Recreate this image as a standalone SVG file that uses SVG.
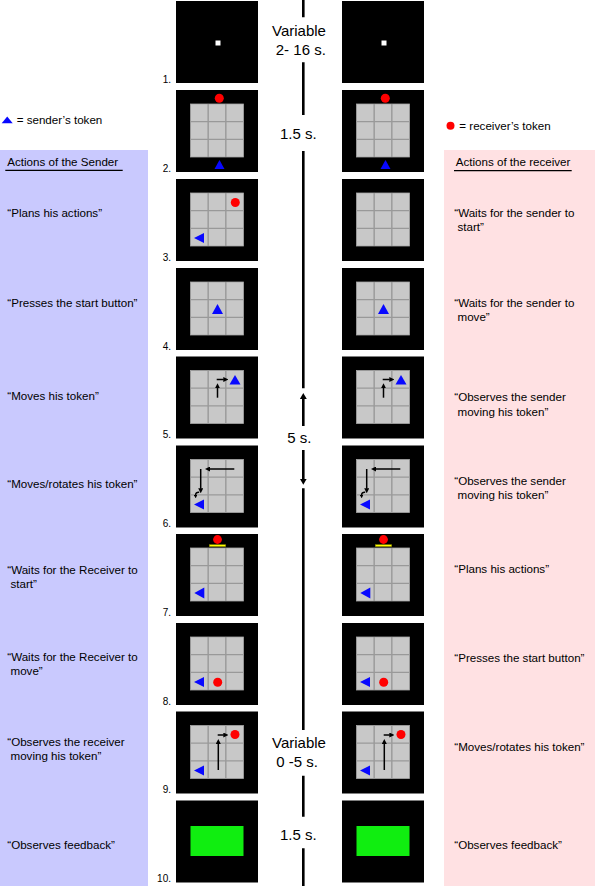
<svg xmlns="http://www.w3.org/2000/svg" width="595" height="886" viewBox="0 0 595 886">
<defs>
<style>
.t{font-family:"Liberation Sans",Arial,sans-serif;font-size:11.6px;fill:#000}
.tl{font-family:"Liberation Sans",Arial,sans-serif;font-size:15px;fill:#000;text-anchor:middle}
.num{font-family:"Liberation Sans",Arial,sans-serif;font-size:10px;fill:#000;text-anchor:end}
.ar{stroke:#000;stroke-width:1.5;fill:none}
.blue{fill:#0808ff}
.red{fill:#ff0000}
.tline{stroke:#000;stroke-width:2.6;fill:none}
</style>
<marker id="ah" viewBox="0 0 5 5" refX="0.5" refY="2.5" markerWidth="5" markerHeight="5" markerUnits="userSpaceOnUse" orient="auto"><path d="M0,0 L5,2.5 L0,5 z" fill="#000"/></marker>
<marker id="ahs" viewBox="0 0 5 5" refX="0.5" refY="2.5" markerWidth="3.6" markerHeight="3.6" markerUnits="userSpaceOnUse" orient="auto"><path d="M0,0 L5,2.5 L0,5 z" fill="#000"/></marker>
<marker id="th" viewBox="0 0 6 7" refX="0.3" refY="3.5" markerWidth="6" markerHeight="7" markerUnits="userSpaceOnUse" orient="auto"><path d="M0,0 L6,3.5 L0,7 z" fill="#000"/></marker>
<rect id="board" width="82" height="82" fill="#000"/>
<g id="grid">
<rect x="14.5" y="14" width="53" height="53" fill="#c8c8c8" stroke="#a6a6a6" stroke-width="0.8"/>
<path d="M32.17 14V67M49.83 14V67M14.5 31.67H67.5M14.5 49.33H67.5" stroke="#999" stroke-width="1.4"/>
</g>
<polygon id="triL" points="18,59 28,54 28,64" class="blue"/>
<g id="c1"><use href="#board"/><rect x="39.5" y="39.5" width="5" height="5" fill="#fff"/></g>
<g id="c2"><use href="#board"/><use href="#grid"/><circle cx="43.3" cy="8.3" r="4.5" class="red"/><polygon points="38.5,79 48.5,79 43.5,70" class="blue"/></g>
<g id="c3"><use href="#board"/><use href="#grid"/><circle cx="59.3" cy="23.5" r="4.5" class="red"/><use href="#triL"/></g>
<g id="c3r"><use href="#board"/><use href="#grid"/></g>
<g id="c4"><use href="#board"/><use href="#grid"/><polygon points="36,46 47,46 41.5,36" class="blue"/></g>
<g id="c5"><use href="#board"/><use href="#grid"/>
<polygon points="53.5,28 64.5,28 59,18.5" class="blue"/>
<path class="ar" d="M41.5 41.2V31.3" marker-end="url(#ah)"/>
<path class="ar" d="M40.7 23H47.8" marker-end="url(#ah)"/>
</g>
<g id="c6"><use href="#board"/><use href="#grid"/>
<use href="#triL"/>
<path class="ar" d="M58.3 23.5H33.5" marker-end="url(#ah)"/>
<path class="ar" d="M24.7 23.5V43.3" marker-end="url(#ah)"/>
<path class="ar" stroke-width="1.2" d="M23.2 46.8Q19.5 46.5 19.6 49.6" marker-end="url(#ahs)"/>
</g>
<g id="c7"><use href="#board"/><use href="#grid"/>
<circle cx="41.5" cy="5.5" r="4.4" class="red"/>
<rect x="33.3" y="10.6" width="16.4" height="2" fill="#ffff00" stroke="#7a7a00" stroke-width="0.4"/>
<polygon points="18.3,59 28.3,53.5 28.3,64.5" class="blue"/>
</g>
<g id="c8"><use href="#board"/><use href="#grid"/>
<use href="#triL"/><circle cx="41.7" cy="59.3" r="4.5" class="red"/>
</g>
<g id="c9"><use href="#board"/><use href="#grid"/>
<use href="#triL"/><circle cx="59" cy="23" r="4.5" class="red"/>
<path class="ar" d="M41.7 23.5H47.8" marker-end="url(#ah)"/>
<path class="ar" d="M42.3 58.5V32" marker-end="url(#ah)"/>
</g>
<g id="c10"><use href="#board"/><rect x="14.5" y="25.5" width="53" height="30" fill="#10ee10"/></g>
</defs>

<rect id="sender-column" x="0" y="150" width="148" height="736" fill="#c9c9fe"/>
<rect id="receiver-column" x="444" y="150" width="151" height="736" fill="#ffe1e3"/>

<g id="legend-sender">
<polygon points="1.7,123.3 12.7,123.3 7.2,116.5" class="blue"/>
<text class="t" x="16.7" y="123.5">= sender’s token</text>
</g>
<g id="legend-receiver">
<circle cx="450.5" cy="125.7" r="4" class="red"/>
<text class="t" x="459.3" y="129.5">= receiver’s token</text>
</g>

<g id="header-sender">
<text class="t" x="7.3" y="165.5">Actions of the Sender</text>
<line x1="5.3" y1="170.3" x2="122.7" y2="170.3" stroke="#000" stroke-width="1.2"/>
</g>
<g id="header-receiver">
<text class="t" x="455.7" y="165.5">Actions of the receiver</text>
<line x1="454" y1="170.7" x2="571.7" y2="170.7" stroke="#000" stroke-width="1.2"/>
</g>

<g id="connectors">
<path class="tline" d="M303.3 0V17.3M303.3 62.3V115M303.3 151V388.3M303.3 488.3V730M303.3 775.7V816.7M303.3 848.3V886"/>
<path class="tline" d="M303.3 426V398.7" marker-end="url(#th)"/>
<path class="tline" d="M303.3 450V479" marker-end="url(#th)"/>
</g>

<g id="timing-labels">
<text class="tl" x="299" y="36">Variable</text>
<text class="tl" x="300.8" y="55">2- 16 s.</text>
<text class="tl" x="298.3" y="139">1.5 s.</text>
<text class="tl" x="299.3" y="442.7">5 s.</text>
<text class="tl" x="299" y="748.3">Variable</text>
<text class="tl" x="297" y="766.7">0 -5 s.</text>
<text class="tl" x="298.3" y="840">1.5 s.</text>
</g>

<g id="sender-panel-1" transform="translate(176,1)"><use href="#c1"/></g>
<g id="sender-panel-2" transform="translate(176,90)"><use href="#c2"/></g>
<g id="sender-panel-3" transform="translate(176,179)"><use href="#c3"/></g>
<g id="sender-panel-4" transform="translate(176,268)"><use href="#c4"/></g>
<g id="sender-panel-5" transform="translate(176,356.5)"><use href="#c5"/></g>
<g id="sender-panel-6" transform="translate(176,445.5)"><use href="#c6"/></g>
<g id="sender-panel-7" transform="translate(176,534)"><use href="#c7"/></g>
<g id="sender-panel-8" transform="translate(176,623)"><use href="#c8"/></g>
<g id="sender-panel-9" transform="translate(176,711.5)"><use href="#c9"/></g>
<g id="sender-panel-10" transform="translate(176,800.5)"><use href="#c10"/></g>

<g id="receiver-panel-1" transform="translate(342,1)"><use href="#c1"/></g>
<g id="receiver-panel-2" transform="translate(342,90)"><use href="#c2"/></g>
<g id="receiver-panel-3" transform="translate(342,179)"><use href="#c3r"/></g>
<g id="receiver-panel-4" transform="translate(342,268)"><use href="#c4"/></g>
<g id="receiver-panel-5" transform="translate(342,356.5)"><use href="#c5"/></g>
<g id="receiver-panel-6" transform="translate(342,445.5)"><use href="#c6"/></g>
<g id="receiver-panel-7" transform="translate(342,534)"><use href="#c7"/></g>
<g id="receiver-panel-8" transform="translate(342,623)"><use href="#c8"/></g>
<g id="receiver-panel-9" transform="translate(342,711.5)"><use href="#c9"/></g>
<g id="receiver-panel-10" transform="translate(342,800.5)"><use href="#c10"/></g>

<g id="step-numbers">
<text class="num" x="171" y="82.5">1.</text>
<text class="num" x="171" y="171.5">2.</text>
<text class="num" x="171" y="260.5">3.</text>
<text class="num" x="171" y="349.5">4.</text>
<text class="num" x="171" y="438">5.</text>
<text class="num" x="171" y="527">6.</text>
<text class="num" x="171" y="615.5">7.</text>
<text class="num" x="171" y="704.5">8.</text>
<text class="num" x="171" y="793">9.</text>
<text class="num" x="171" y="882">10.</text>
</g>

<g id="sender-actions">
<text class="t" x="7.3" y="217">“Plans his actions”</text>
<text class="t" x="7.3" y="306.5">“Presses the start button”</text>
<text class="t" x="7.3" y="400">“Moves his token”</text>
<text class="t" x="7.3" y="488">“Moves/rotates his token”</text>
<text class="t" x="7.3" y="573.5">“Waits for the Receiver to</text>
<text class="t" x="10.5" y="587.5">start”</text>
<text class="t" x="7.3" y="661">“Waits for the Receiver to</text>
<text class="t" x="10.5" y="675">move”</text>
<text class="t" x="7.3" y="746">“Observes the receiver</text>
<text class="t" x="10.5" y="760">moving his token”</text>
<text class="t" x="7.3" y="848.5">“Observes feedback”</text>
</g>

<g id="receiver-actions">
<text class="t" x="454.3" y="216.7">“Waits for the sender to</text>
<text class="t" x="457.5" y="230.5">start”</text>
<text class="t" x="454.3" y="307">“Waits for the sender to</text>
<text class="t" x="457.5" y="321">move”</text>
<text class="t" x="454.3" y="400.7">“Observes the sender</text>
<text class="t" x="457.5" y="415.5">moving his token”</text>
<text class="t" x="454.3" y="484.5">“Observes the sender</text>
<text class="t" x="457.5" y="499">moving his token”</text>
<text class="t" x="454.3" y="573">“Plans his actions”</text>
<text class="t" x="454.3" y="662">“Presses the start button”</text>
<text class="t" x="454.3" y="751">“Moves/rotates his token”</text>
<text class="t" x="454.3" y="848.5">“Observes feedback”</text>
</g>
</svg>
